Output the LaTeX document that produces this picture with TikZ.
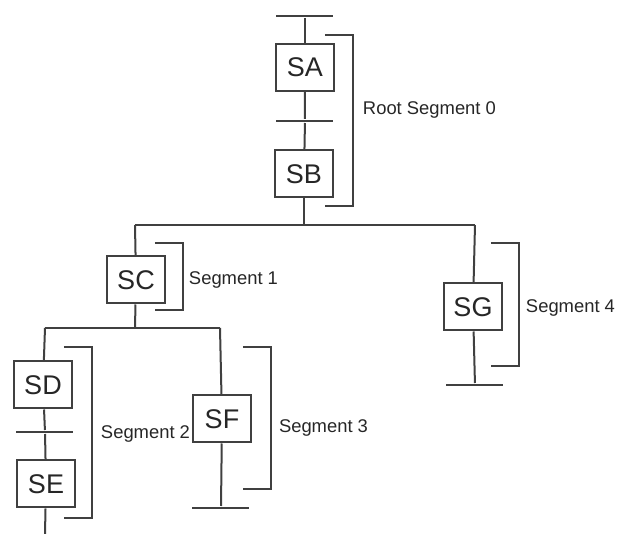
\documentclass[tikz,border=0pt]{standalone}
\usepackage{fontspec}
\setmainfont{Liberation Sans}
\usetikzlibrary{positioning}

\begin{document}
\begin{tikzpicture}[x=0.5pt,y=-0.5pt,line width=1pt,draw=black!75,
    stepbox/.style={draw,fill=white,minimum width=29pt,minimum height=23.5pt,inner sep=0pt,
      text=black!85,font=\fontsize{13.5}{16}\selectfont},
    bar/.style={fill=black!75,minimum width=28.5pt,minimum height=1pt,inner sep=0pt},
    seglabel/.style={anchor=west,inner sep=0pt,text=black!85,font=\fontsize{9.2}{11}\selectfont}]
  \useasboundingbox (0,0) rectangle (618,534);

  \node[bar] (t0) at (305,16) {};
  \node[stepbox] (sa) at (305,67.5) {SA};
  \node[bar] (t1) at (305,121) {};
  \node[stepbox] (sb) at (304,174) {SB};
  \coordinate (j0) at (304,225);
  \coordinate (jl) at (135,225);
  \coordinate (jr) at (475,225);
  \node[stepbox] (sc) at (136,280) {SC};
  \node[stepbox] (sg) at (473,307) {SG};
  \node[bar] (t4) at (475,385) {};
  \coordinate (j1) at (135,328);
  \coordinate (kl) at (45,328);
  \coordinate (kr) at (220,328);
  \node[stepbox] (sd) at (43,385) {SD};
  \node[bar] (t2) at (45,432) {};
  \node[stepbox] (se) at (46,484) {SE};
  \coordinate (e2) at (45,534);
  \node[stepbox] (sf) at (222,419) {SF};
  \node[bar] (t3) at (221,508) {};

  \draw (t0) -- (sa);
  \draw (sa) -- (t1) -- (sb);
  \draw (sb) -- (j0);
  \draw (jl) -- (jr);
  \draw (jl) -- (sc);
  \draw (jr) -- (sg);
  \draw (sg) -- (t4);
  \draw (sc) -- (j1);
  \draw (kl) -- (kr);
  \draw (kl) -- (sd);
  \draw (kr) -- (sf);
  \draw (sd) -- (t2) -- (se);
  \draw (se) -- (e2);
  \draw (sf) -- (t3);

  \draw[line width=1.2pt] (325,35) -| (353,206) -- (325,206);
  \node[seglabel] (l0) at (362,110) {Root Segment 0};
  \draw[line width=1.2pt] (155,243) -| (183,310) -- (155,310);
  \node[seglabel] (l1) at (188,280) {Segment 1};
  \draw[line width=1.2pt] (64,347) -| (92,518) -- (64,518);
  \node[seglabel] (l2) at (100,434) {Segment 2};
  \draw[line width=1.2pt] (243,347) -| (271,489) -- (243,489);
  \node[seglabel] (l3) at (278,428) {Segment 3};
  \draw[line width=1.2pt] (491,243) -| (519,366) -- (491,366);
  \node[seglabel] (l4) at (525,308) {Segment 4};
\end{tikzpicture}
\end{document}
